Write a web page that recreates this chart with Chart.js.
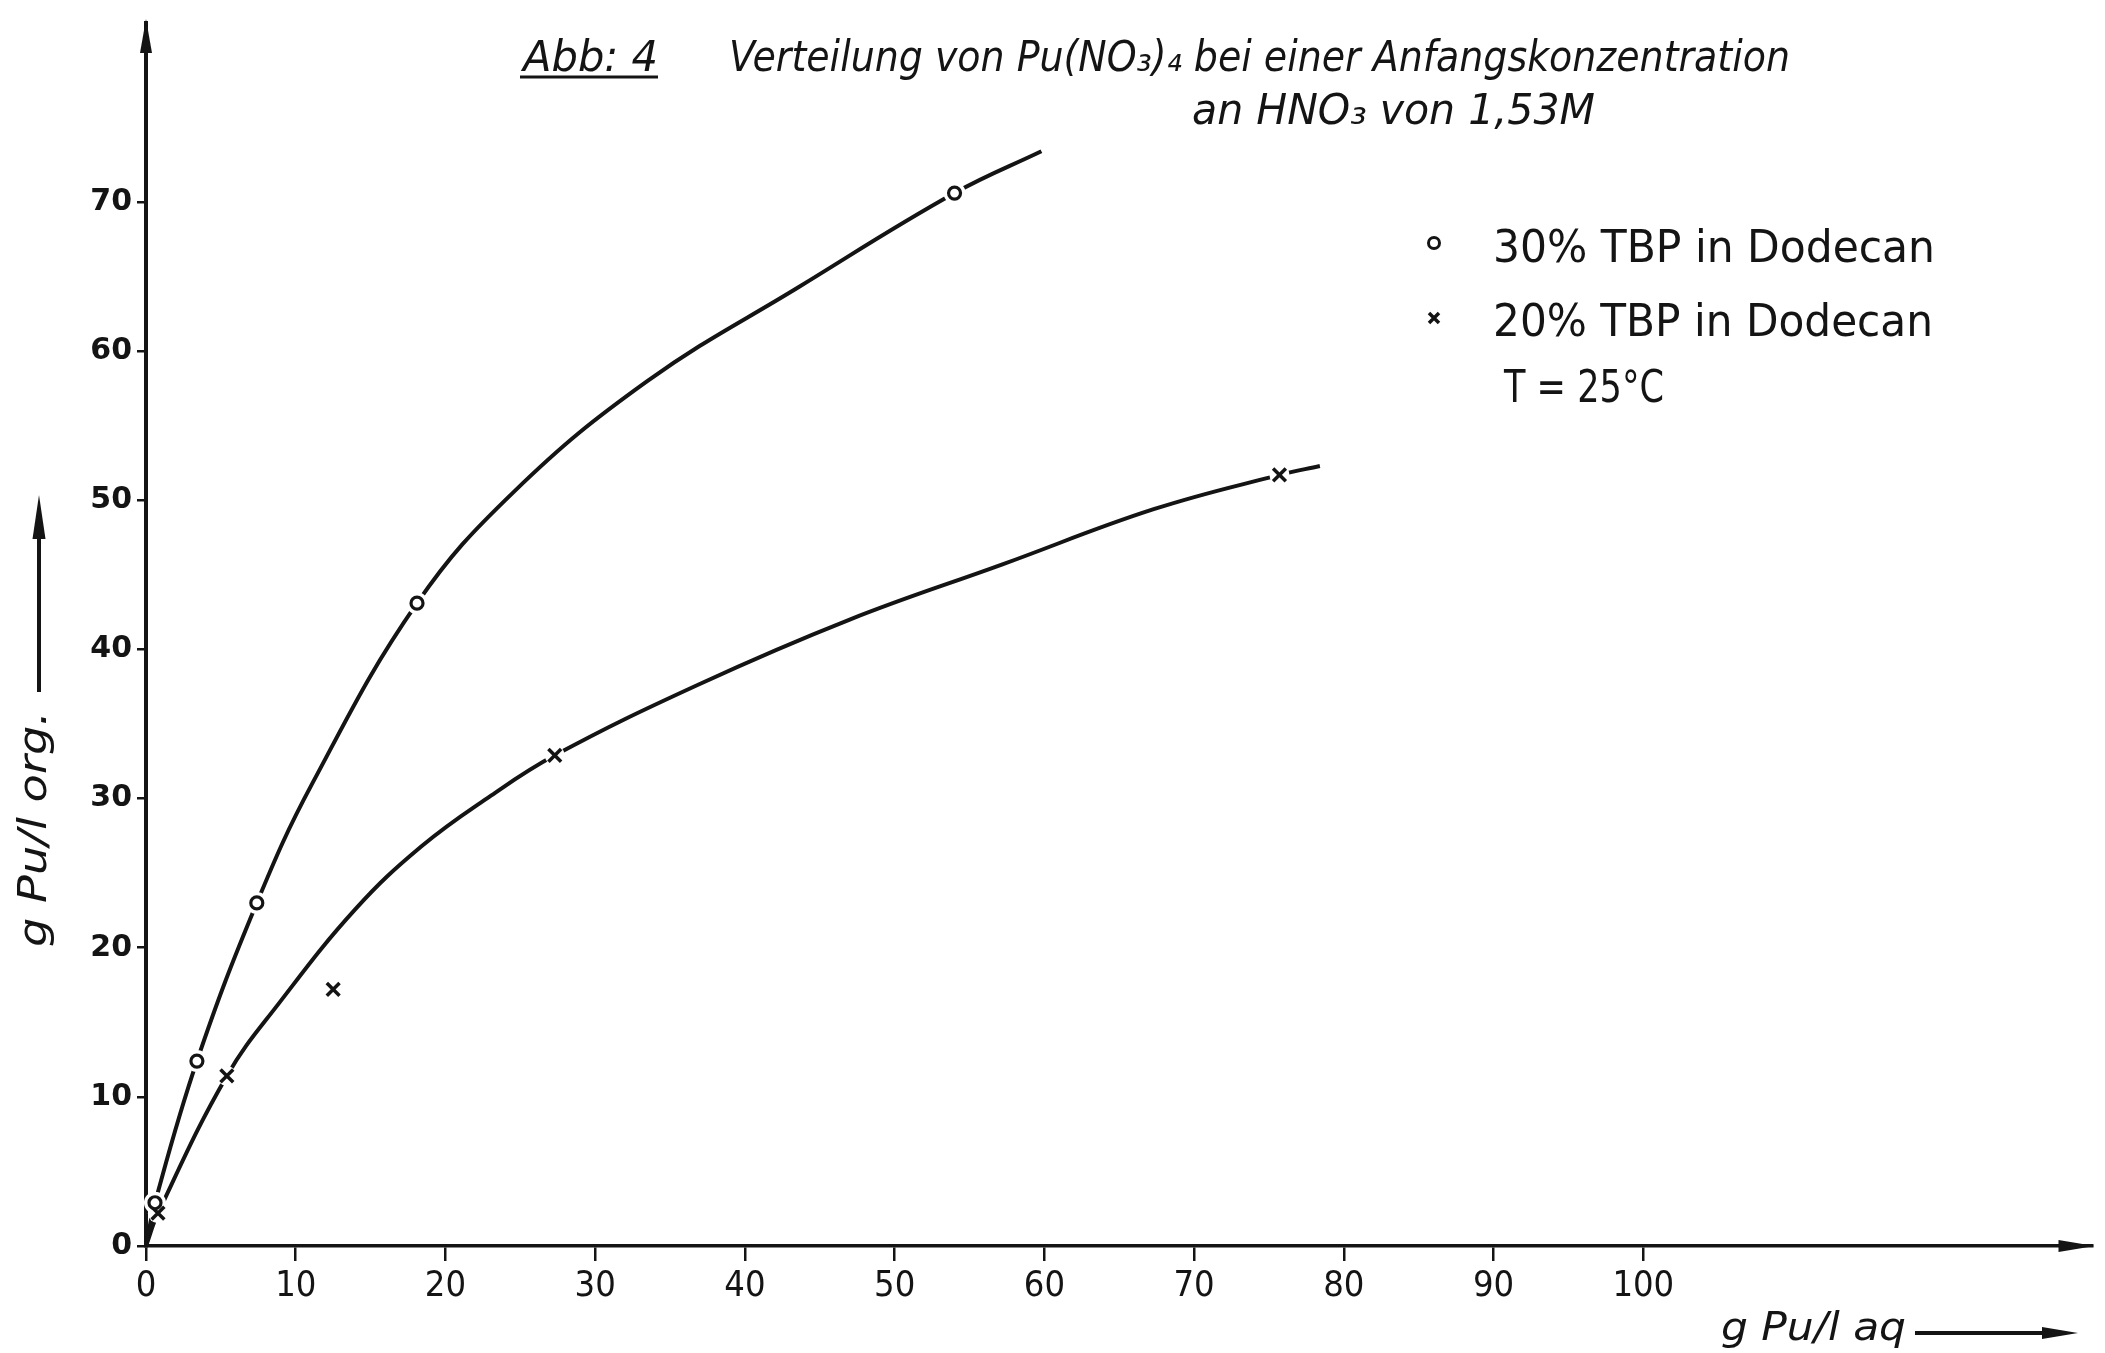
<!DOCTYPE html>
<html>
<head>
<meta charset="utf-8">
<script src="https://cdn.jsdelivr.net/npm/chart.js@4.4.1/dist/chart.umd.min.js"></script>
<style>
  html, body { margin: 0; padding: 0; background: #ffffff; }
  #wrap { width: 2105px; height: 1353px; position: relative; }
</style>
</head>
<body>
<div id="wrap"><canvas id="c" width="2105" height="1353"></canvas></div>
<script>
// ---------- texts ----------
const titleLabel = 'Abb: 4';
const titleLine1 = 'Verteilung von Pu(NO₃)₄ bei einer Anfangskonzentration';
const titleLine2 = 'an HNO₃ von 1,53M';
const seriesNames = ['30% TBP in Dodecan', '20% TBP in Dodecan'];
const noteText = 'T = 25°C';
const xAxisTitle = 'g Pu/l aq';
const yAxisTitle = 'g Pu/l org.';

// ---------- tick labels ----------
const xTickValues = [0, 10, 20, 30, 40, 50, 60, 70, 80, 90, 100];
const yTickValues = [0, 10, 20, 30, 40, 50, 60, 70];

// ---------- measured points ----------
const tbp30X = [0.6, 3.4, 7.4, 18.1, 54.0];
const tbp30Y = [2.9, 12.4, 23.0, 43.1, 70.6];
const tbp20X = [0.8, 5.4, 12.5, 27.3, 75.7];
const tbp20Y = [2.2, 11.4, 17.2, 32.9, 51.7];

// ---------- hand-drawn curves ----------
const curve30X = [0, 0.6, 3.4, 7.4, 11.1, 18.1, 24.6, 33.5, 43.6, 54.0, 59.8];
const curve30Y = [0, 2.9, 12.4, 23.0, 31.0, 43.1, 50.6, 58.0, 64.3, 70.6, 73.4];
const curve20X = [0, 0.8, 5.4, 8.9, 14.0, 18.4, 22.9, 27.3, 36.8, 47.0, 57.2, 67.3, 75.7, 78.4];
const curve20Y = [0, 2.2, 11.4, 16.3, 22.6, 26.8, 30.1, 32.9, 37.6, 42.0, 45.7, 49.4, 51.7, 52.3];

const pts = (xs, ys) => xs.map((x, i) => ({ x: x, y: ys[i] }));

const INK = '#141414';
const NARROW = '"Liberation Sans Narrow", "DejaVu Sans Condensed", "DejaVu Sans", sans-serif';
const PLAIN = '"DejaVu Sans", "Liberation Sans", sans-serif';

function fitText(ctx, text, x, y, font, targetW) {
  ctx.font = font;
  const w = ctx.measureText(text).width;
  const sx = targetW / w;
  ctx.save();
  ctx.translate(x, y);
  ctx.scale(sx, 1);
  ctx.fillText(text, 0, 0);
  ctx.restore();
}

function arrowHead(ctx, tipX, tipY, dirX, dirY, len, half) {
  const bx = tipX - dirX * len, by = tipY - dirY * len;
  const px = -dirY, py = dirX;
  ctx.beginPath();
  ctx.moveTo(tipX, tipY);
  ctx.lineTo(bx + px * half, by + py * half);
  ctx.lineTo(bx - px * half, by - py * half);
  ctx.closePath();
  ctx.fill();
}

const decor = {
  id: 'decor',
  afterDraw(chart) {
    const ctx = chart.ctx;
    const a = chart.chartArea;
    ctx.save();
    ctx.fillStyle = INK;
    ctx.strokeStyle = INK;
    ctx.textBaseline = 'alphabetic';
    ctx.textAlign = 'left';

    // axis arrow heads
    arrowHead(ctx, a.left, a.top - 4, 0, -1, 34, 6);
    arrowHead(ctx, a.right + 2, a.bottom, 1, 0, 36, 6);

    // title
    const tFont = 'italic 42px ' + NARROW;
    fitText(ctx, titleLabel, 523, 71, tFont, 135);
    ctx.lineWidth = 3;
    ctx.beginPath(); ctx.moveTo(520, 77); ctx.lineTo(658, 77); ctx.stroke();
    fitText(ctx, titleLine1, 729, 71, tFont, 1061);
    fitText(ctx, titleLine2, 1192, 124, tFont, 403);

    // legend
    const lFont = '44px ' + PLAIN;
    ctx.lineWidth = 3;
    ctx.beginPath(); ctx.arc(1434, 243, 5.5, 0, Math.PI * 2); ctx.stroke();
    ctx.lineWidth = 3.5;
    ctx.beginPath();
    ctx.moveTo(1429, 313); ctx.lineTo(1439, 323);
    ctx.moveTo(1439, 313); ctx.lineTo(1429, 323); ctx.stroke();
    fitText(ctx, seriesNames[0], 1493, 262, lFont, 442);
    fitText(ctx, seriesNames[1], 1493, 336, lFont, 440);
    fitText(ctx, noteText, 1504, 402, lFont, 160);

    // y axis title with arrow
    ctx.save();
    ctx.translate(46, 947);
    ctx.rotate(-Math.PI / 2);
    fitText(ctx, yAxisTitle, 0, 0, 'italic 39px ' + NARROW, 236);
    ctx.restore();
    ctx.lineWidth = 4;
    ctx.beginPath(); ctx.moveTo(39, 692); ctx.lineTo(39, 530); ctx.stroke();
    arrowHead(ctx, 39, 495, 0, -1, 44, 6.5);

    // x axis title with arrow
    fitText(ctx, xAxisTitle, 1721, 1340, 'italic 39px ' + NARROW, 185);
    ctx.lineWidth = 4;
    ctx.beginPath(); ctx.moveTo(1915, 1333); ctx.lineTo(2045, 1333); ctx.stroke();
    arrowHead(ctx, 2078, 1333, 1, 0, 36, 6);

    ctx.restore();
  }
};

new Chart(document.getElementById('c'), {
  type: 'scatter',
  data: {
    datasets: [
      {
        label: seriesNames[0] + ' curve',
        data: pts(curve30X, curve30Y),
        showLine: true, pointRadius: 0, borderColor: INK, borderWidth: 4,
        tension: 0.4, fill: false, clip: false, order: 5
      },
      {
        label: seriesNames[1] + ' curve',
        data: pts(curve20X, curve20Y),
        showLine: true, pointRadius: 0, borderColor: INK, borderWidth: 4,
        tension: 0.4, fill: false, clip: false, order: 5
      },
      {
        label: 'gap30',
        data: pts(tbp30X, tbp30Y),
        showLine: false, pointRadius: 11, pointBorderWidth: 0,
        pointBackgroundColor: '#ffffff', pointBorderColor: '#ffffff', clip: false, order: 3
      },
      {
        label: 'gap20',
        data: pts(tbp20X, tbp20Y),
        showLine: false, pointRadius: 10, pointBorderWidth: 0,
        pointBackgroundColor: '#ffffff', pointBorderColor: '#ffffff', clip: false, order: 3
      },
      {
        label: seriesNames[0],
        data: pts(tbp30X, tbp30Y),
        showLine: false, pointStyle: 'circle', pointRadius: 6, pointBorderWidth: 3.2,
        pointBackgroundColor: '#ffffff', pointBorderColor: INK, clip: false, order: 1
      },
      {
        label: seriesNames[1],
        data: pts(tbp20X, tbp20Y),
        showLine: false, pointStyle: 'crossRot', pointRadius: 9, pointBorderWidth: 3.5,
        pointBorderColor: INK, clip: false, order: 1
      }
    ]
  },
  options: {
    responsive: false,
    animation: false,
    devicePixelRatio: 1,
    layout: { padding: { top: 14, right: 3, left: 0, bottom: 0 } },
    plugins: { legend: { display: false }, title: { display: false }, tooltip: { enabled: false } },
    scales: {
      x: {
        type: 'linear', position: 'bottom', min: 0, max: 130,
        afterBuildTicks: s => { s.ticks = xTickValues.map(v => ({ value: v })); },
        afterFit: s => { s.height = 107; },
        grid: { drawOnChartArea: false, drawTicks: true, tickLength: 15, color: INK, lineWidth: 2.5 },
        border: { display: true, color: INK, width: 3.5 },
        ticks: {
          color: INK, padding: 4, maxRotation: 0, autoSkip: false,
          font: { family: NARROW, size: 36 },
          callback: v => String(v)
        }
      },
      y: {
        type: 'linear', position: 'left', min: 0, max: 82,
        afterBuildTicks: s => { s.ticks = yTickValues.map(v => ({ value: v })); },
        afterFit: s => { s.width = 146; },
        grid: { drawOnChartArea: false, drawTicks: true, tickLength: 9, color: INK, lineWidth: 2.5 },
        border: { display: true, color: INK, width: 4 },
        ticks: {
          color: INK, padding: 5, autoSkip: false,
          font: { family: PLAIN, size: 30, weight: 'bold' },
          callback: v => String(v)
        }
      }
    }
  },
  plugins: [decor]
});
</script>
</body>
</html>
